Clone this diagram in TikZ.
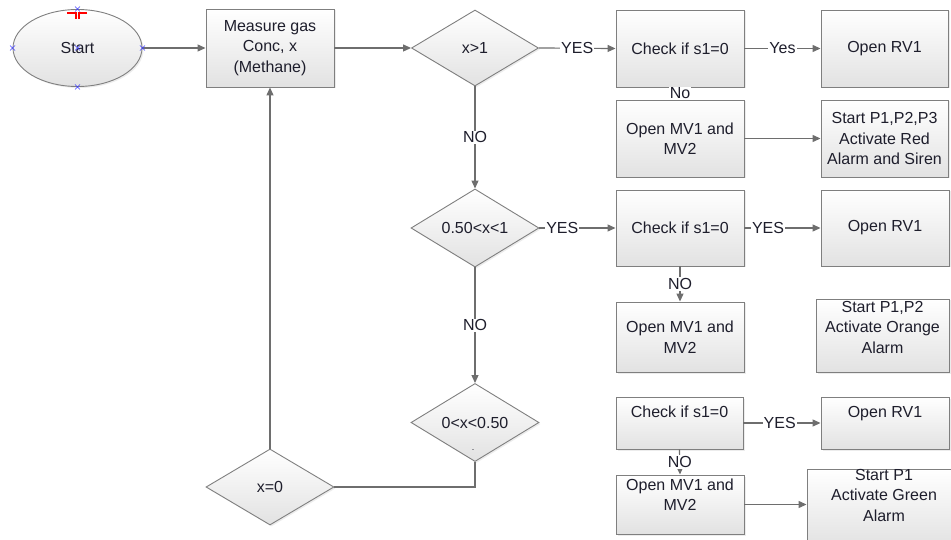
\documentclass[tikz,border=0pt]{standalone}
\usepackage{fontspec}
\setmainfont{Liberation Sans}
\usepackage{tikz}
\usetikzlibrary{shapes.geometric,arrows.meta,shadows}
\definecolor{edgegray}{HTML}{7F7F7F}
\definecolor{linegray}{HTML}{6E6E6E}
\definecolor{fillgray}{HTML}{E2E2E2}
\definecolor{txtcol}{HTML}{1E1E2C}
\newcommand{\liftup}[2]{\raisebox{#1}[\height][\depth]{\begin{tabular}{@{}c@{}}#2\end{tabular}}}
\tikzstyle{base}=[draw=edgegray, line width=0.9pt, top color=white, bottom color=fillgray, text=txtcol, font=\fontsize{16}{20.5}\selectfont, align=center, inner sep=0pt, drop shadow={opacity=0.15, shadow xshift=1.5pt, shadow yshift=-1.5pt}]
\tikzstyle{proc}=[base, rectangle, minimum width=128pt, minimum height=77pt]
\tikzstyle{decide}=[base, diamond, minimum width=128pt, minimum height=76pt]
\tikzstyle{term}=[base, ellipse, minimum width=129pt, minimum height=77pt]
\tikzstyle{link}=[draw=linegray, line width=1.2pt]
\tikzstyle{flow}=[link, -{Triangle[length=8pt,width=7pt]}]
\tikzstyle{lbl}=[fill=white, text=txtcol, font=\fontsize{16}{18}\selectfont, inner sep=1pt]
\tikzstyle{handle}=[draw=blue!75, line width=0.6pt]

\begin{document}
\begin{tikzpicture}[x=1pt,y=-1pt]
    \clip (0,0) rectangle (951,540);
    \node [term] (start) at (77.5,48) {Start};
    \node [proc, minimum height=78pt] (meas) at (270,48) {Measure gas\\Conc, x\\(Methane)};
    \node [decide, minimum width=127pt] (d1) at (475,48) {x>1};
    \node [proc] (chk1) at (680,48.5) {Check if s1=0};
    \node [proc, minimum width=127pt] (rv1) at (884.5,48.5) {Open RV1};
    \node [proc] (mv1) at (680,138.5) {Open MV1 and\\MV2};
    \node [proc, minimum width=127pt] (p123) at (884.5,138.5) {Start P1,P2,P3\\Activate Red\\Alarm and Siren};
    \node [decide] (d2) at (475,228) {0.50<x<1};
    \node [proc, minimum height=76pt] (chk2) at (680,228) {Check if s1=0};
    \node [proc, minimum height=76pt] (rv2) at (885,228) {Open RV1};
    \node [proc, minimum height=70pt] (mv2) at (680,337) {Open MV1 and\\MV2};
    \node [proc, minimum width=133pt, minimum height=73pt] (p12) at (882.5,335.5) {\liftup{7pt}{Start P1,P2\\Activate Orange\\Alarm}};
    \node [decide, minimum height=75pt] (d3) at (475,422.5) {0<x<0.50};
    \node [decide] (zero) at (270,487) {x=0};
    \node [proc, minimum width=127pt, minimum height=52pt] (chk3) at (679.5,423) {\liftup{9.5pt}{Check if s1=0}};
    \node [proc, minimum height=52pt] (rv3) at (885,423) {\liftup{9.5pt}{Open RV1}};
    \node [proc, minimum height=59pt] (mv3) at (680,504.5) {\liftup{8pt}{Open MV1 and\\MV2}};
    \node [proc, minimum width=154pt, minimum height=78pt] (p1) at (884,508) {\liftup{11.5pt}{Start P1\\Activate Green\\Alarm}};
    \node [text=txtcol, font=\small, inner sep=0pt] (dot3) at (473,450) {.};

    \draw [flow] (start.east) -- (meas.west);
    \draw [flow] (meas.east) -- (d1.west);
    \draw [flow] (d1.east) -- node [lbl] {YES} (chk1.west);
    \draw [flow] (chk1.east) -- node [lbl] {Yes} (rv1.west);
    \draw [flow] (chk1.south) -- node [lbl] {No} (mv1.north);
    \draw [flow] (mv1.east) -- (p123.west);
    \draw [flow] (d1.south) -- node [lbl] {NO} (d2.north);
    \draw [flow] (d2.east) -- node [lbl, pos=.3] {YES} (chk2.west);
    \draw [flow] (chk2.east) -- node [lbl, pos=.31] {YES} (rv2.west);
    \draw [flow] (chk2.south) -- node [lbl] {NO} (mv2.north);
    \draw [flow] (d2.south) -- node [lbl] {NO} (d3.north);
    \draw [link] (d3.south) |- (zero.east);
    \draw [flow] (zero.north) -- (meas.south);
    \draw [flow] (chk3.east) -- node [lbl, pos=.47] {YES} (rv3.west);
    \draw [flow] (chk3.south) -- node [lbl] {NO} (mv3.north);
    \draw [flow] (mv3.east) -- (mv3.east -| p1.west);

    \foreach \a in {west,east,north,south,center}
        \draw [handle] ([xshift=-2.5pt,yshift=-2.5pt]start.\a) -- ([xshift=2.5pt,yshift=2.5pt]start.\a)
            ([xshift=-2.5pt,yshift=2.5pt]start.\a) -- ([xshift=2.5pt,yshift=-2.5pt]start.\a);
    \draw [red, line width=2pt] (67,13) -- (76,13) -- (76,19) (87,13) -- (79,13) -- (79,19);
\end{tikzpicture}
\end{document}
